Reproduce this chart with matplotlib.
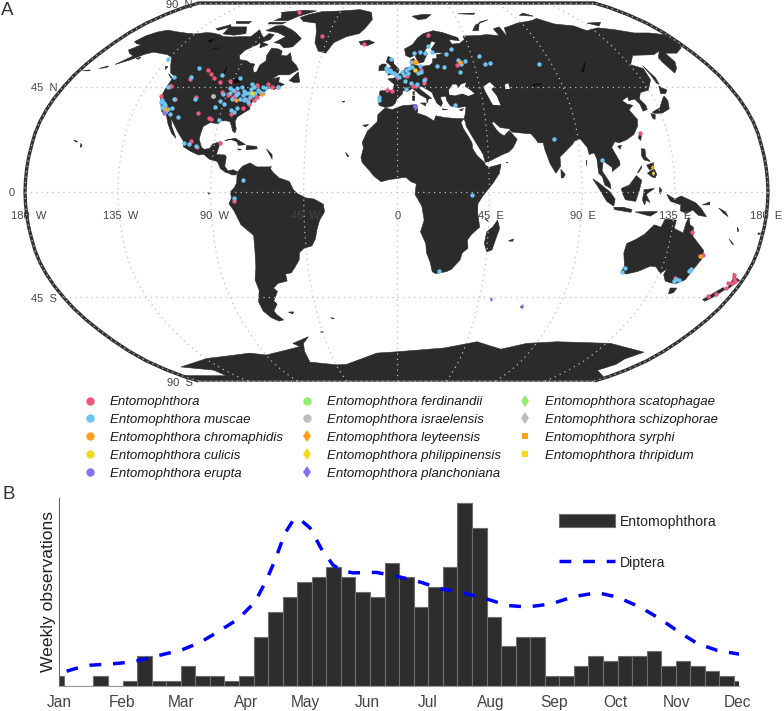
import numpy as np
import matplotlib
matplotlib.use("Agg")
import matplotlib.pyplot as plt
from matplotlib.lines import Line2D
from matplotlib.patches import Patch, Polygon

plt.rcParams['font.family'] = ['Liberation Sans', 'DejaVu Sans']

# ---- Robinson table
ROB_LAT = [0,5,10,15,20,25,30,35,40,45,50,55,60,65,70,75,80,85,90]
ROB_X = [1.0,.9986,.9954,.99,.9822,.973,.96,.9427,.9216,.8962,.8679,.835,.7986,.7597,.7186,.6732,.6213,.5722,.5322]
ROB_Y = [0,.062,.124,.186,.248,.31,.372,.434,.4958,.5571,.6176,.6769,.7346,.7903,.8435,.8936,.9394,.9761,1.0]

def rob(lon, lat):
    lon = np.asarray(lon, float); lat = np.asarray(lat, float)
    a = np.abs(lat)
    return np.interp(a, ROB_LAT, ROB_X) * lon / 180.0, np.sign(lat) * np.interp(a, ROB_LAT, ROB_Y)

# ---- coastlines (lon, lat)
NORTH_AMERICA = [(-168,65.5),(-166,68.3),(-162,70.2),(-156.5,71.3),(-150,70.5),(-141,69.7),(-135,69.3),(-128,70),(-124,69.8),(-118,69),(-114,68),(-108,67.8),(-102,68),(-96,68),(-94,71.5),(-90,69),(-87,67.5),(-85.5,69.5),(-81.5,69),(-82,66.5),(-87,65),(-88,64),(-93,61.5),(-94.5,59),(-92.5,57),(-88,56.5),(-85,55.3),(-82.3,55),(-82,53),(-80.5,51.3),(-79,51.5),(-79,54.5),(-76.7,56.5),(-78,59),(-77.5,62.4),(-73,62),(-70,61),(-69.5,59),(-66,58.7),(-64.5,60.2),(-61.5,56.5),(-58,54.5),(-55.8,52.5),(-60,50.2),(-66,50.2),(-69,48.2),(-65,49.2),(-64.5,47),(-61,46),(-64,44.5),(-66,43.7),(-66,45),(-67,44.8),(-70,43.7),(-70.7,42),(-74,40.6),(-75.5,38),(-76,36.9),(-75.5,35.3),(-78,33.9),(-81,32),(-81.5,30),(-80.2,26.8),(-80.5,25.2),(-81.8,26),(-82.8,28),(-84,30),(-86,30.4),(-89,30.3),(-89.5,29.2),(-91,29.3),(-94,29.6),(-97,28),(-97.5,25),(-97.8,22.5),(-96,19),(-94.5,18.2),(-92,18.6),(-90.7,20.5),(-87,21.5),(-87.6,19),(-88.3,16),(-84,15.8),(-83.3,14.9),(-83.7,11),(-82,9),(-79.5,9.5),(-77.3,8.6),(-78,7.3),(-80,7.3),(-81.5,8),(-83,8.3),(-85.7,10),(-87.5,13),(-91.5,14),(-94.5,16.1),(-97,15.8),(-101,17.3),(-105,19.3),(-105.7,22),(-109,25.5),(-112.5,29.5),(-114.7,31.7),(-112.5,27.5),(-110,24),(-109.5,23),(-112,25),(-115,29),(-117.2,32.6),(-120.5,34.5),(-122.5,37.5),(-124.2,40.3),(-124.3,44),(-124,48.3),(-122.5,49),(-127,51),(-130.5,54.5),(-134,58),(-138,59.3),(-144,60),(-148,60.5),(-152,59.5),(-157,57),(-163,54.8),(-158,58.7),(-162,60),(-165,61.5),(-161,64),(-165,64.5)]
SOUTH_AMERICA = [(-77.3,8.6),(-75,11),(-71.5,12.4),(-68,10.7),(-62,10.7),(-60,8.3),(-57,6),(-52,4.5),(-50,1),(-48,-.7),(-44,-2.5),(-40,-3),(-35.5,-5.2),(-35,-8.5),(-37.5,-12),(-39,-16),(-40,-20),(-42,-23),(-46,-24),(-48.5,-26),(-49,-29),(-52,-32.5),(-54,-34.5),(-57,-35),(-57,-38),(-62,-39),(-65,-41),(-63.5,-42.5),(-65.5,-45),(-67,-46.5),(-65.8,-48),(-69,-51),(-68.3,-52.5),(-65.5,-55),(-68.5,-55.5),(-72,-54),(-75,-51),(-75.5,-47),(-73,-42),(-73.5,-37.5),(-71.5,-32),(-70.5,-25),(-70.3,-18.5),(-76,-14),(-79,-8),(-81.3,-5),(-80,-2.5),(-80.5,0),(-78.5,2),(-77.5,4),(-77.5,7)]
AFRICA = [(-6,35.8),(-2,35.2),(3,36.8),(10,37.3),(11,35),(10.5,33.7),(15,32.4),(19,30.3),(20,32.5),(25,31.7),(31,31.3),(34.3,31.3),(32.5,29.8),(33.5,27),(35.5,24),(37.3,21),(37.5,18.5),(39.5,15.5),(43,12.5),(43.3,11.5),(45,10.5),(51,11.9),(50,8),(47,4),(42,-1.5),(39.5,-5),(39.5,-9),(40.7,-15),(37,-18),(35,-20.5),(35.5,-24),(32.8,-26),(32,-29),(28,-33),(25.5,-34),(20,-34.8),(18.3,-34),(17,-30),(15,-26),(14.5,-22),(11.8,-17),(13.5,-12),(12.3,-6),(9,-1),(9.6,3.5),(7,4.4),(4.5,6.3),(1,5.9),(-4,5.2),(-7.5,4.4),(-11,6.8),(-13.5,9.5),(-16.7,12.5),(-17.4,14.7),(-16.2,19),(-17,21),(-14.5,26),(-11.5,28.5),(-9.7,30),(-9.5,33)]
EURASIA = [(-5.5,36),(-9,37),(-9.5,38.7),(-8.8,43.2),(-2,43.4),(-1.2,46),(-4.7,48.4),(-1.5,48.7),(1.5,50.5),(4,52),(5,53.2),(8.5,53.8),(8.2,56.8),(10.5,57.6),(10.5,54.5),(14,54),(19,54.4),(21,55.5),(21.5,57.5),(24,57.5),(24,59.3),(30,60),(25,60.2),(22.5,60),(21.5,62),(25,65),(22.5,65.8),(21,64),(17.5,61.5),(17.5,60.5),(18.8,59.8),(16.5,57),(16,56),(13,55.4),(11,59),(8,58),(5.5,59),(5,62),(10,64),(14,67.5),(18,69.5),(25,71),(31,70),(40,67.5),(40.5,66),(34,66.5),(35,64.3),(40,64.6),(44,66.5),(44,68.3),(54,68.5),(60,69),(68,68.5),(67,72),(72,73),(73,68),(75,72.5),(80,73.5),(87,75),(100,76.5),(105,77.7),(113,74.5),(125,73.5),(130,71),(140,72.5),(150,71.5),(160,69.8),(170,69.8),(180,68.8),(180,65),(177,62.5),(170,60),(163,60),(163,56),(160,53),(156.5,51),(155.5,56),(156,58),(161,61),(155,59.3),(142,59),(135.5,54.7),(141,53),(140,48),(135,43.5),(130,42.5),(127.5,39.7),(129.3,37),(129,35.2),(126.5,34.5),(126.5,37.5),(125,39.7),(121.5,39),(122,40.7),(118,39),(120,37.5),(122.5,37),(119.5,35),(122,31),(121,28),(118,24.5),(114,22.3),(110,21),(108,21.5),(106,19),(109,13),(109,11.5),(105,8.7),(105,10.5),(101,13.3),(100,9),(103.5,4),(104,1.4),(101,3),(100,6.5),(98.3,8),(98,14),(97,16.7),(94.5,16),(94,19),(91,22.7),(88,21.7),(87,20.5),(82,16.5),(80,15),(80,11),(77.5,8),(75,12),(73,18),(72.5,21),(70,21),(69,22.5),(67,24.8),(62,25.2),(57.5,25.6),(56.5,27),(52,27.5),(49,30),(48,29.5),(50,26.5),(51.5,25),(53.5,24),(56.3,26.2),(59.8,22.5),(57.5,19),(55,17),(52,16),(45,13),(43.3,12.7),(42.5,16),(39,21.5),(35,28),(34.8,29.5),(34.3,31.3),(35,33),(36,36.5),(32,36.1),(28,36.7),(26.3,39),(26,41),(23,40.5),(24,38),(23,36.5),(21,38),(19.5,41),(19,42.5),(14,45),(12.3,45.3),(12.5,44),(16,41.7),(18.5,40),(16.8,39.7),(16,38),(15.7,40),(12.5,41.5),(10.5,43),(8.5,44.3),(6,43),(3.5,43.3),(3,41.8),(0,39.5),(-.5,38),(-2,36.8)]
GREENLAND = [(-73,78.2),(-68,80),(-60,82),(-45,82.5),(-30,83.5),(-20,81.5),(-18,77),(-22,72),(-25,69.5),(-33,68),(-40,65),(-43,60),(-48,61),(-52,65),(-54,70),(-58,75),(-68,76)]
BAFFIN = [(-80,73.7),(-72,71.5),(-68,70),(-62,67),(-65,63),(-70,62.5),(-74,64.5),(-78,65),(-73,68),(-80,70),(-89,71),(-85,73.5)]
VICTORIA = [(-117,73),(-105,73),(-101,69.5),(-108,68.7),(-116,69.3)]
BANKS = [(-125,72),(-118,74.2),(-116,73),(-122,71.2)]
ELLESMERE = [(-90,76.5),(-80,76.3),(-75,79),(-65,82.5),(-75,83),(-92,81.5),(-87,78)]
DEVON = [(-92,75.5),(-80,75.5),(-82,74.5),(-92,74.6)]
MELVILLE = [(-117,76),(-106,76),(-106,74.8),(-115,74.8)]
SOUTHAMPTON = [(-87,65.5),(-81,64),(-85,62.5)]
NEWFOUNDLAND = [(-59,47.7),(-55.5,51.5),(-53,47),(-56,46.8)]
VANCOUVER = [(-128,50.8),(-123.5,48.4),(-125,48.8)]
CUBA = [(-85,22),(-80,23),(-74.5,20.2),(-78,19.9),(-79,21.5),(-82,22.4)]
HISPANIOLA = [(-74,19.8),(-69,19.5),(-68.5,18.4),(-74,18)]
JAMAICA = [(-78.3,18.4),(-76.3,18.2),(-77,17.8)]
ICELAND = [(-24,65.5),(-18,66.3),(-14,65),(-18.5,63.5),(-22.5,64)]
BRITAIN = [(-5,50),(1,51),(1.5,52.7),(-1.5,55),(-2,57.5),(-5,58.5),(-6,56),(-3,54),(-5,52.5),(-3.5,51.5)]
IRELAND = [(-10,52),(-6.2,52.2),(-6,55),(-8.5,55),(-10,54)]
SVALBARD = [(12,79),(20,80),(27,80),(22,77.5),(16,77)]
NOVAYA = [(52,71),(56,74),(68,77),(60,75.5),(56,71)]
SEVERNAYA = [(95,79.5),(105,79),(100,81)]
SIBERIAN_ISLES = [(137,75),(148,75.5),(143,73.5)]
FRANZ_JOSEF = [(48,80.5),(62,81),(60,80)]
SAKHALIN = [(142,54.3),(143.5,49),(143,46),(142,46.5),(142,50)]
HONSHU = [(131,34),(136,36),(140,40),(141.5,41),(142,39),(140.5,35.5),(136,33.7),(132,33.5)]
HOKKAIDO = [(140.5,42),(142,45.3),(145,43.5),(143,42)]
KYUSHU = [(130,33.5),(132,33),(131,31),(130,31.5)]
TAIWAN = [(121,25),(122,25),(121,22),(120,23)]
HAINAN = [(109,19.5),(111,20),(110,18.3)]
SRI_LANKA = [(80,9.7),(82,7.5),(81,6),(80,6)]
SUMATRA = [(95.3,5.6),(98,4),(103.5,0),(106,-3),(105.5,-6),(102,-4),(98.5,1)]
JAVA = [(105.5,-6.5),(110,-6.5),(114.5,-7.5),(114,-8.7),(106,-7.5)]
BORNEO = [(109,1.5),(113,3),(116.5,7),(119,5),(117.8,1),(116,-4),(111,-3.3),(109.5,-.5)]
SULAWESI = [(120,1),(125,1.5),(121,-1),(123,-4.5),(121,-3.5),(120.5,-5.5),(119.3,-3.5),(119.8,0)]
NEW_GUINEA = [(131,-1),(135,-3),(138,-1.7),(145,-4.5),(148,-7),(151,-10.5),(147,-10),(144,-7.7),(141,-9.2),(138,-8),(138,-5.5),(133,-4),(132,-2.7)]
LUZON = [(120.5,18.5),(122.2,18.3),(122,15),(124,13),(121,13.7),(120,15.5)]
MINDANAO = [(122,8),(123.5,9),(125.5,9.7),(126.5,7.5),(125.5,6),(124,6.5)]
VISAYAS = [(122,11.5),(125.5,12.5),(125,10),(123,9.5)]
PALAWAN = [(117.2,8.4),(119.5,11.2),(119.3,10.2),(117.5,8.2)]
TIMOR = [(116,-8.5),(125,-8.3),(127,-8.4),(123.5,-10.3),(118,-9)]
MOLUCCAS = [(127.5,2),(128.5,1),(128,-1),(127.3,0)]
AUSTRALIA = [(114,-22),(113.5,-26),(115.7,-31.5),(115,-34.3),(118,-35),(123.5,-33.9),(129,-31.6),(132,-32),(135.5,-34.8),(137.8,-32.7),(137.5,-35.3),(140,-38),(143.5,-38.8),(146.5,-39),(150,-37.5),(151.5,-33),(153.5,-28.5),(153,-25),(149.5,-22),(146,-19),(145.3,-15),(143.5,-14),(142.5,-10.8),(141.5,-13),(140.8,-17.5),(136,-15.5),(136.5,-12),(131,-11.5),(129.5,-15),(126,-14),(122,-18),(118,-20.3)]
TASMANIA = [(144.7,-41),(148.3,-41),(148,-43),(146,-43.6),(145.3,-42.5)]
NZ_SOUTH = [(166.5,-46),(172.5,-40.8),(174.3,-41.7),(171,-45),(168.5,-46.7)]
NZ_NORTH = [(172.8,-34.5),(175.5,-36.5),(178.5,-37.7),(177,-39.5),(175.3,-41.6),(174.8,-39.5),(174.5,-37)]
MADAGASCAR = [(49.3,-12),(50.5,-15.5),(47.5,-24.7),(45,-25.5),(43.5,-22),(44.3,-17),(47,-15)]
SICILY = [(12.5,38),(15.5,38),(15,36.7)]
SARDINIA = [(8.3,41),(9.7,41),(9.5,39),(8.5,39)]
CORSICA = [(8.7,42.8),(9.5,43),(9.4,41.5),(8.8,41.5)]
CRETE = [(23.5,35.5),(26.3,35.2),(24,35)]
CYPRUS = [(32.3,35),(34.5,35.6),(33.5,34.6)]
HAWAII = [(-156,20.8),(-155,19.7),(-155.7,19)]
OAHU = [(-160,22.2),(-157.8,21.6),(-158.2,21.2)]
ALEUTIAN_A = [(-170,53),(-166,54.2),(-166,53.5)]
ALEUTIAN_B = [(-178,52),(-174,52.4),(-174,52)]
KODIAK = [(-154.5,57.5),(-152.5,58.2),(-152.5,57.2)]
QUEEN_CHARLOTTE = [(-133,54),(-131.5,54),(-131.5,52.5)]
FALKLANDS = [(-61,-51.5),(-58,-51.4),(-59,-52.3)]
SOUTH_GEORGIA = [(-38,-54),(-36,-54.2),(-36.5,-54.6)]
SOUTH_ORKNEY = [(-46.5,-60.5),(-44.5,-60.5),(-45,-60.9)]
KERGUELEN = [(68.8,-48.9),(70.4,-49),(69.5,-49.8)]
FIJI = [(177.5,-17.5),(179,-17.5),(178,-18.3)]
NEW_CALEDONIA = [(164,-20),(167,-22.3),(166.5,-22.4)]
SOLOMON = [(156.5,-6.8),(160,-8.5),(161.5,-10.5),(159,-9)]
VANUATU = [(166.8,-15),(168,-16.5),(167.5,-17)]
NEW_BRITAIN = [(148.5,-5.5),(152,-4.2),(152,-5.5)]
GALAPAGOS = [(-91.5,-.3),(-90.5,-.3),(-91,-1)]
TRINIDAD = [(-61.8,10.8),(-60.9,10.8),(-61.5,10)]
ANTILLES = [(-64,18.4),(-61,16),(-60.8,14)]
CANARY = [(-17,28.5),(-14,28.8),(-15.5,27.8)]
CAPE_VERDE = [(-25,17),(-23.3,15.2),(-24,15)]
AZORES = [(-28.5,38.6),(-27,38.8),(-27.5,38.3)]
SOCOTRA = [(53.4,12.6),(54.4,12.6),(54,12.3)]
ANDAMAN = [(92.7,13.5),(93,13.5),(92.7,11)]
MASCARENE = [(55.3,-20.9),(57.7,-20),(57.5,-21)]
COMOROS = [(43.3,-11.5),(45.2,-12.7),(44.5,-12.4)]
ANTARCTICA = [(-180,-90),(-180,-84.4),(-142.6,-84.5),(-143.6,-80.4),(-164,-78.5),(-134,-73.7),(-121,-72.7),(-100,-70.9),(-90,-71.9),(-73.5,-69.3),(-63.4,-67.6),(-66.8,-66),(-55,-62.8),(-60,-66),(-62,-70),(-63,-75.7),(-44.6,-77.3),(-37,-77),(-13.5,-70.9),(.3,-70.2),(31.5,-68.3),(51.5,-65.2),(69.5,-68.9),(84,-66),(102.6,-65.2),(138,-66),(167.7,-70.4),(162,-74),(163,-77),(158,-80.5),(175,-85),(180,-90)]
LAND = [NORTH_AMERICA,SOUTH_AMERICA,AFRICA,EURASIA,GREENLAND,BAFFIN,VICTORIA,BANKS,ELLESMERE,DEVON,MELVILLE,SOUTHAMPTON,NEWFOUNDLAND,VANCOUVER,CUBA,HISPANIOLA,JAMAICA,ICELAND,BRITAIN,IRELAND,SVALBARD,NOVAYA,SEVERNAYA,SIBERIAN_ISLES,FRANZ_JOSEF,SAKHALIN,HONSHU,HOKKAIDO,KYUSHU,TAIWAN,HAINAN,SRI_LANKA,SUMATRA,JAVA,BORNEO,SULAWESI,NEW_GUINEA,LUZON,MINDANAO,VISAYAS,PALAWAN,TIMOR,MOLUCCAS,AUSTRALIA,TASMANIA,NZ_SOUTH,NZ_NORTH,MADAGASCAR,SICILY,SARDINIA,CORSICA,CRETE,CYPRUS,HAWAII,OAHU,ALEUTIAN_A,ALEUTIAN_B,KODIAK,QUEEN_CHARLOTTE,FALKLANDS,SOUTH_GEORGIA,SOUTH_ORKNEY,KERGUELEN,FIJI,NEW_CALEDONIA,SOLOMON,VANUATU,NEW_BRITAIN,GALAPAGOS,TRINIDAD,ANTILLES,CANARY,CAPE_VERDE,AZORES,SOCOTRA,ANDAMAN,MASCARENE,COMOROS,ANTARCTICA]

BLACK_SEA = [(28,41.5),(31,41.2),(35,42),(38,41),(41.5,42),(39,44),(37,45),(38,46.8),(35,46),(33.5,44.5),(32.5,46),(30.5,46),(28,43.5)]
CASPIAN = [(47,45),(51,47),(53,45),(51,44),(53,41),(54,37),(50,37.2),(49,39.5),(47.5,43)]
ARAL = [(59,46),(61,46.5),(61,44),(58.5,44)]
WATER = [BLACK_SEA,CASPIAN,ARAL]
BAIKAL = [(104,51.6),(106,51.6),(110,55.5),(109.5,55.8),(106.5,53)]
BALKHASH = [(74,46),(79,46.5),(79,46),(74,45.3)]
SUPERIOR = [(-92,46.7),(-88,48.8),(-85,47.5),(-87,46.5)]
MICHIGAN = [(-87.8,42),(-86.3,42),(-85,46),(-87.5,45)]
HURON = [(-84.5,46),(-80.5,45),(-82,43),(-83.5,44.5)]
ERIE = [(-83.4,41.6),(-79,42.8),(-79,43),(-83,42.3)]
ONTARIO = [(-79.5,43.3),(-76,43.5),(-76.3,44.2),(-79,43.9)]
WINNIPEG = [(-98,53.5),(-97,53.5),(-96.5,50.5),(-97,50.5)]
SLAVE = [(-116,61),(-109,62.7),(-112,62.5)]
BEAR = [(-122,66),(-118,67),(-119,65)]
LAKES = [BAIKAL,BALKHASH,SUPERIOR,MICHIGAN,HURON,ERIE,ONTARIO,WINNIPEG,SLAVE,BEAR]

# ---- observations (lon, lat)
ENTOMOPHTHORA = [(-106.9,52.2),(-104.1,50.5),(-101.1,48.9),(-113.9,48.2),(-96.4,46.9),(-91.4,47.5),(-122.1,45.4),(-123,45.4),(-75.9,45.6),(-70.3,46.4),(-67.4,45),(-63.8,45),(-124.3,40.9),(-116.5,39.6),(-105.8,40.4),(-101.3,33.6),(-118.4,34.1),(-95.1,31.5),(-94,31.2),(-84.4,33.4),(-76.9,37.5),(-79,36),(-86.2,40.7),(-89.3,41.4),(-101.9,21.9),(-98.3,19.3),(-87,20.8),(-93.4,42.8),(-86.2,42.8),(-77.8,39.9),(-73.8,40.7),(-74.7,39.2),(-120.3,36.3),(-118.4,35.1),(-78.5,82.0),(-49.5,68.5),(-20.5,64.2),(-5.2,43.6),(-2.6,43.2),(21,68.9),(13.7,52.4),(.1,49.1),(6,49.8),(16,48.2),(15,46.7),(9.1,45.5),(10.4,45.5),(34.7,54.4),(121.3,25.2),(145.1,-17),(153.5,-27),(144,-36.6),(168,-44.6),(171,-43.4),(173.8,-40.8),(173.6,-38.9),(174,-35.4),(175.2,-37.3),(176,-37.8),(175.4,-38.9),(-79,-3.9)]
MUSCAE = [(-135.1,57.2),(-113.3,53.4),(-97.2,50),(-123.5,49.2),(-114.2,49.2),(-86.9,48.8),(-123.6,44.8),(-89.9,44.3),(-92,41.7),(-89,42.5),(-87.7,43.6),(-85.9,44.3),(-83.6,45),(-81.4,43.3),(-84.2,42.1),(-81.2,41.4),(-80,42.4),(-78.3,43.8),(-78.7,46.2),(-76.9,44.7),(-74.2,43.6),(-71.9,44.7),(-70.1,44.3),(-82.2,39.9),(-79.4,39.5),(-77.3,40.7),(-75.9,41.4),(-77.4,38.5),(-75.1,42.1),(-72.9,42.8),(-86.5,39.9),(-84.9,41.4),(-78.7,42.1),(-80,39.2),(-71.1,42.4),(-63.9,44.9),(-85.1,35.1),(-83.2,34.1),(-82.5,36),(-93.7,36.3),(-92.1,38.9),(-89.5,37.5),(-90,30.6),(-110.9,31.9),(-116,35.9),(-116.8,39.6),(-105.6,39.8),(-105,20.8),(-102.7,20.5),(-99.1,19.7),(-74.3,5),(-79,-2.7),(-122.6,39.2),(-121,37.8),(-120.1,37),(-121.2,36.3),(-117.9,35.6),(-118.6,34.1),(-115.7,33.4),(-122.9,38.5),(-119.6,35.6),(-3.7,52.4),(-9.2,39.3),(-9,40.5),(10.6,59.9),(14.5,60.6),(17.5,60.2),(20,63.4),(21.5,60.6),(29.7,59.5),(34,62),(23.6,54.1),(27.4,53.8),(36,56.8),(39.9,56.2),(37.6,55),(35.9,51.6),(49.7,58.6),(51.2,55.2),(54.5,55.6),(82.8,55),(78.3,22.5),(100.2,13.8),(36.4,-1.2),(30.4,37),(-3,57.2),(-5.2,52.1),(-3.3,51.6),(-1.4,51),(1.4,49.1),(3.3,51.6),(5.2,52.4),(4.2,50.1),(6.5,51.2),(-.5,50.1),(-6.2,53.1),(7.2,53.1),(9.1,53.8),(8.7,56.1),(13.6,54.2),(13.7,51.6),(12.2,50.8),(4.7,47.5),(8.1,46.7),(11,46.1),(4.9,43.9),(15.1,47.9),(21.7,-33.6),(116.1,-32.3),(115.6,-34),(149.5,-33.7),(150.4,-33),(144.2,-37.8),(145.2,-37.2),(147,-37.5)]
CHROMAPHIDIS = [(-84,39.3),(-71.2,41.8),(-118.8,35.3),(10.2,56),(11.6,56),(37.1,56),(152,-27.2)]
CULICIS = [(-77,42.5),(10.3,52.4)]
ERUPTA = [(-118.8,33.7),(9.6,36.8)]
ISRAELENSIS = [(-97,41.1)]
LEYTEENSIS = [(124.7,10.8)]
PHILIPPINENSIS = [(124.8,8)]
PLANCHONIANA = [(9,36.5),(10,36.5),(9.5,35.8),(51.4,-45.9),(69.5,-48.8)]

# ---- legend
LEGEND_COL1 = [("Entomophthora",'o','#F0567A'),("Entomophthora muscae",'o','#6CC5F5'),("Entomophthora chromaphidis",'o','#FF9F1C'),("Entomophthora culicis",'o','#F5D921'),("Entomophthora erupta",'o','#8B6FF0')]
LEGEND_COL2 = [("Entomophthora ferdinandii",'o','#90EE70'),("Entomophthora israelensis",'o','#BDBDBD'),("Entomophthora leyteensis",'d','#FF9F1C'),("Entomophthora philippinensis",'d','#F5D921'),("Entomophthora planchoniana",'d','#8B6FF0')]
LEGEND_COL3 = [("Entomophthora scatophagae",'d','#90EE70'),("Entomophthora schizophorae",'d','#BDBDBD'),("Entomophthora syrphi",'s','#FF9F1C'),("Entomophthora thripidum",'s','#F5D921')]

# ---- panel B
MONTHS = ['Jan','Feb','Mar','Apr','May','Jun','Jul','Aug','Sep','Oct','Nov','Dec']
MONTH_DAYS = [0,31,60,92,121,151.5,181.5,212.5,243.6,274,304,334]
WEEK_COUNTS = [2,0,0,2,0,1,6,1,1,4,2,2,1,2,10,15,18,21,22,24,22,19,18,25,22,16,20,24,37,32,14,8,10,10,2,2,4,6,5,6,6,7,4,5,4,3,2,1]
DIPTERA_DAY = [3.5,8.5,15,26.5,36.4,41.3,51.1,60.2,69.2,79,88.1,96.3,102,106.2,111,115.2,118,123.4,128.8,134.7,138.8,144.5,156,166.4,178,187.8,199.3,209.1,220.6,230.4,242,253.4,264.9,274.8,286.3,296.2,305.2,314.2,324,335.6]
DIPTERA_VAL = [3.0,3.6,4.2,4.5,4.9,5.4,6.4,7.3,8.8,11.2,13.6,17,21.5,25.5,30.9,33.6,33.9,32,27.9,24.5,23.4,22.9,23,22.2,21,19.7,18.8,17.8,16.3,16,16.6,18.1,18.9,18,15.9,13.5,10.9,8.6,7.2,6.4]

W, H = 784, 711
fig = plt.figure(figsize=(W/100, H/100), dpi=100, facecolor='white')

# ---------- map
ax = fig.add_axes([0, 1-392/H, 1, 392/H])
ax.set_xlim((0-396.5)/371.5, (784-396.5)/371.5)
ax.set_ylim((192-392)/189, 192/189)
ax.axis('off')
LAND_C = '#2b2b2b'
for poly in LAND:
    a = np.array(poly)
    x, y = rob(a[:,0], a[:,1])
    ax.add_patch(Polygon(np.c_[x,y], closed=True, fc=LAND_C, ec=LAND_C, lw=0.4, zorder=1))
for poly in WATER:
    a = np.array(poly)
    x, y = rob(a[:,0], a[:,1])
    ax.add_patch(Polygon(np.c_[x,y], closed=True, fc='white', ec='none', zorder=1.5))
for poly in LAKES:
    a = np.array(poly)
    x, y = rob(a[:,0], a[:,1])
    ax.add_patch(Polygon(np.c_[x,y], closed=True, fc='#0c0c0c', ec='none', zorder=1.5))

# border
lat_line = np.linspace(-90, 90, 181)
xl, yl = rob(np.full_like(lat_line, -180), lat_line)
xr, yr = rob(np.full_like(lat_line, 180), lat_line)
bx = np.r_[xl, xr[::-1]]; by = np.r_[yl, yr[::-1]]
ax.plot(bx, by, color='#333333', lw=2.4, zorder=1.8, solid_capstyle='butt', clip_on=False)
ax.plot([xl[0], xr[0]], [yl[0], yr[0]], color='#555555', lw=1.2, zorder=1.8)

# graticule
GR = dict(color='#bdbdbd', lw=0.9, ls=(0,(1,3.3)), zorder=2)
for lon in [-180,-135,-90,-45,0,45,90,135,180]:
    x, y = rob(np.full_like(lat_line, lon), lat_line)
    ax.plot(x, y, **GR)
for lat in [-90,-45,0,45,90]:
    lons = np.array([-180.,180.])
    x, y = rob(lons, np.full_like(lons, lat))
    ax.plot(x, y, **GR)

def pts(data, marker, color, s):
    a = np.array(data)
    x, y = rob(a[:,0], a[:,1])
    ax.scatter(x, y, marker=marker, c=color, s=s, lw=0, zorder=3)

pts(ENTOMOPHTHORA, 'o', '#F0567A', 10)
pts(MUSCAE, 'o', '#6CC5F5', 10)
pts(CHROMAPHIDIS, 'o', '#FF9F1C', 10)
pts(CULICIS, 'o', '#F5D921', 10)
pts(ISRAELENSIS, 'o', '#BDBDBD', 12)
pts(ERUPTA, 'o', '#8B6FF0', 10)
pts(LEYTEENSIS, 'd', '#FF9F1C', 7)
pts(PHILIPPINENSIS, 'd', '#F5D921', 7)
pts(PLANCHONIANA, 'd', '#8B6FF0', 7)

LAB = dict(fontsize=8.0, color='#444444', va='center', zorder=4)
for lat, t in [(90,'90  N'),(45,'45  N'),(-45,'45  S'),(-90,'90  S')]:
    x, y = rob(-180, lat)
    ax.annotate(t, (x, y), xytext=(-4.6, -1.2), textcoords='offset points', ha='right', **LAB)
x, y = rob(-180, 0)
ax.annotate('0', (x, y), xytext=(-7.2, -0.7), textcoords='offset points', ha='right', **LAB)
for lon, t, dx in [(-180,'180  W',2.5),(-135,'135  W',2),(-90,'90  W',2.4),(-45,'45  W',1),(0,'0',1),(45,'45  E',1),(90,'90  E',.6),(135,'135  E',0),(180,'180  E',-1.4)]:
    x, y = rob(lon, 0)
    ax.annotate(t, (x, y), xytext=(dx, -17.3), textcoords='offset points', ha='center', **LAB)

fig.text(1/W, 1-15/H, 'A', fontsize=13.5, color='#333333', va='baseline')
fig.text(2/W, 1-499/H, 'B', fontsize=13.5, color='#333333', va='baseline')

# legends
for col, left in [(LEGEND_COL1, 83), (LEGEND_COL2, 300.4), (LEGEND_COL3, 518.4)]:
    hs = [Line2D([], [], ls='none', marker=m, color=c, markersize=(6 if m == 'o' else 6.2 if m == 'd' else 5), mew=0) for _, m, c in col]
    leg = fig.legend(hs, [t for t, _, _ in col], loc='upper left', bbox_to_anchor=(left/W, 1-396/H),
                     frameon=False, borderpad=0, borderaxespad=0, handlelength=1, handletextpad=1,
                     labelspacing=0.42, prop={'size': 9.55, 'style': 'italic', 'family': 'Liberation Sans'})
    for t in leg.get_texts():
        t.set_color('#1a1a1a')

# ---------- panel B
axb = fig.add_axes([59.5/W, 1-686/H, (739-59.5)/W, 188/H])
WEEK_START = 2.4 - 7.17
edges = [WEEK_START + i*7.17 for i in range(len(WEEK_COUNTS))]
axb.bar(edges, WEEK_COUNTS, width=7.17, align='edge', color='#2d2d2d', edgecolor='#6e6e6e', linewidth=0.8, zorder=2)
axb.plot(DIPTERA_DAY, DIPTERA_VAL, color='#0000FF', lw=2.5, ls=(0,(3.4,3.4)), zorder=3)
axb.set_xlim(0, 334.7)
axb.set_ylim(0, 38.06)
for s in ['top','right']:
    axb.spines[s].set_visible(False)
axb.spines['left'].set_color('#666666')
axb.spines['bottom'].set_color('#999999')
axb.set_yticks([])
axb.set_xticks(MONTH_DAYS)
axb.set_xticklabels(MONTHS, fontsize=11.2, color='#444444')
axb.tick_params(axis='x', length=0, pad=6.5)
axb.set_ylabel('Weekly observations', fontsize=12.6, color='#222222', labelpad=2.5)

hs = [Patch(fc='#2d2d2d', ec='#6e6e6e', lw=0.8), Line2D([], [], color='#0000FF', lw=2.5, ls=(0,(3.4,3.4)))]
lg = fig.legend(hs, ['Entomophthora', 'Diptera'], loc='upper left', bbox_to_anchor=(559/W, 1-514/H),
                frameon=False, borderpad=0, borderaxespad=0, handlelength=4.0, handleheight=1.1,
                handletextpad=0.33, labelspacing=1.92, prop={'size': 10.1})
for t in lg.get_texts():
    t.set_color('#222222')

fig.savefig('out.png', dpi=100)
